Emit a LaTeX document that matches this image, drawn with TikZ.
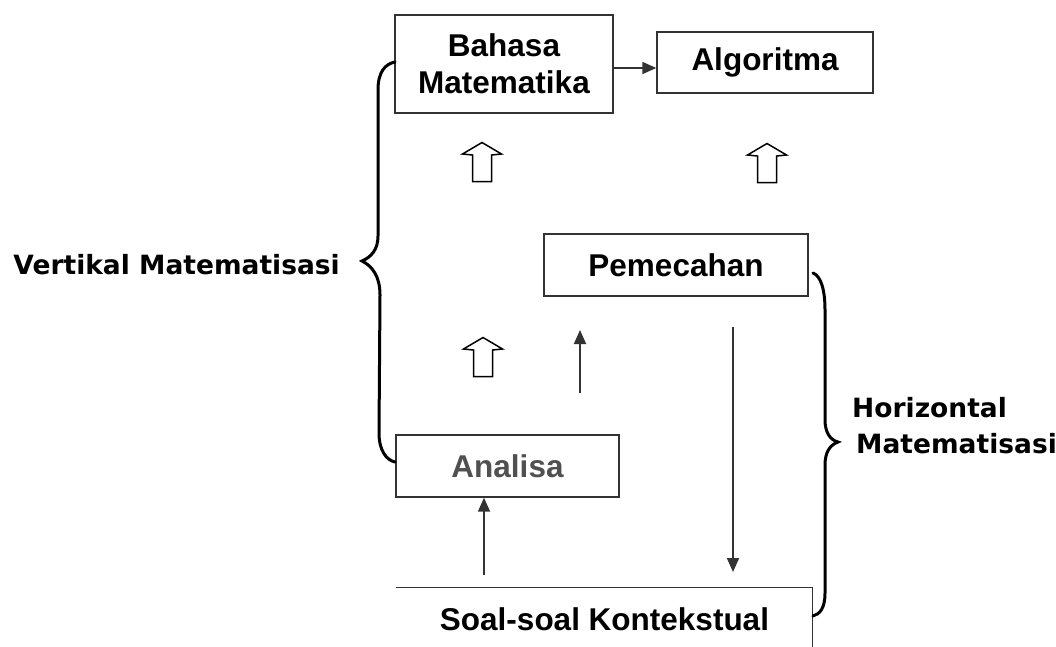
\documentclass[tikz,border=0pt]{standalone}
\usepackage{fontspec}
\usetikzlibrary{arrows.meta}
\newfontfamily\boxfont{Liberation Sans}
\newfontfamily\labfont{DejaVu Sans}
\definecolor{boxline}{HTML}{333333}
\definecolor{anagray}{HTML}{505050}
\begin{document}
\begin{tikzpicture}[x=1pt,y=-1pt,
  box/.style={draw=boxline,line width=1.4pt,rectangle,inner sep=0pt,align=center,
    font=\boxfont\bfseries\fontsize{31.5}{37}\selectfont},
  lab/.style={inner sep=0pt,font=\labfont\bfseries\fontsize{26.5}{36}\selectfont},
  conn/.style={draw=boxline,line width=1.8pt,-{Triangle[length=14pt,width=12pt]}},
  bracel/.style={draw=black,line width=3pt,line cap=round},
  hollowline/.style={draw=black,line width=1.5pt,line join=miter},
  hollowup/.pic={\draw[hollowline] (-9.5,19.5) -- (-9.5,-7) -- (-19.5,-8) -- (0,-19.5) -- (19.5,-8) -- (9.5,-7) -- (9.5,19.5) -- cycle;}
]
\useasboundingbox (0,0) rectangle (1056,646);
\fill[white] (0,0) rectangle (1056,646);

% boxes
\node[box,minimum width=218pt,minimum height=98pt] (bahasa) at (504,64) {Bahasa\\Matematika};
\node[box,minimum width=216pt,minimum height=61pt] (algo) at (765,62.5) {Algoritma};
\node[box,minimum width=264pt,minimum height=62pt] (pem) at (676,265) {Pemecahan};
\node[box,minimum width=223pt,minimum height=62pt,text=anagray] (anal) at (507.5,466) {Analisa};
\node[box,draw=none,minimum width=415pt,minimum height=62pt] (soal) at (604.5,619) {Soal-soal Kontekstual};
\draw[boxline,line width=1.4pt] (soal.north west) -- (soal.north east) -- (soal.south east);

% labels
\node[lab,anchor=east] (vlab) at (340,265) {Vertikal Matematisasi};
\node[lab,anchor=base west] (hlab1) at (852,417) {Horizontal};
\node[lab,anchor=base west] (hlab2) at (856,453) {Matematisasi};

% connectors
\draw[conn] ([yshift=-4pt]bahasa.east) -- ([yshift=-4pt]bahasa.east -| algo.west);
\coordinate (u1s) at (580,393);
\coordinate (u1e) at (580,330);
\draw[conn] (u1s) -- (u1e);
\coordinate (d1s) at (733,327);
\coordinate (d1e) at (733,572);
\draw[conn] (d1s) -- (d1e);
\coordinate (u2s) at (484,575);
\draw[conn] (u2s) -- (u2s |- anal.south);

% hollow arrows
\pic at (482,162) {hollowup};
\pic at (767,163) {hollowup};
\pic at (483,357) {hollowup};

% braces
\draw[bracel] (395,62) .. controls (385,64) and (378,72) .. (378,90)
  -- (378,236) .. controls (378,250) and (371,257) .. (362,261)
  .. controls (372,266) and (380,276) .. (380,295)
  -- (379,433) .. controls (379,450) and (386,460) .. (395,462);
\draw[bracel] (813,273) .. controls (821,276) and (825,290) .. (825,310)
  -- (825,420) .. controls (825,432) and (830,440) .. (838,442)
  .. controls (830,445) and (825,452) .. (825,465)
  -- (825,593) .. controls (825,608) and (820,614) .. (813,616);
\end{tikzpicture}
\end{document}
